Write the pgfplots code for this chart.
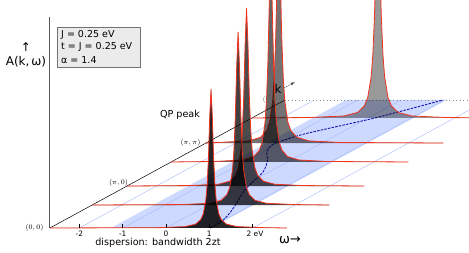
\documentclass[border=0pt]{standalone}
\usepackage{pgfplots}
\pgfplotsset{compat=1.18}
\usepackage{fontspec}
\setmainfont{DejaVu Sans}
\definecolor{band}{RGB}{205,217,255}
\definecolor{gridb}{RGB}{165,185,250}
\definecolor{rline}{RGB}{240,50,30}
\definecolor{disp}{RGB}{20,20,180}
\begin{document}
\begin{tikzpicture}
\begin{axis}[
  x={(43.3pt,0pt)}, y={(78.33pt,42.67pt)}, z={(0pt,1pt)},
  hide axis, clip=false,
  xmin=-2.68, xmax=2.8, ymin=0, ymax=3, zmin=0, zmax=220,
]
\coordinate (O) at (axis cs:-3.8337,0,228);
% band (bandwidth 2zt)
\addplot3[draw=none, fill=band] coordinates {(-1.27,0,0) (1.05,0,0) (1.05,3,0) (-1.27,3,0) (-1.27,0,0)};
% grid lines along k
\addplot3[gridb, line width=0.4pt] coordinates {(-2,0,0) (-2,3,0)};
\addplot3[gridb, line width=0.4pt] coordinates {(-1,0,0) (-1,3,0)};
\addplot3[gridb, line width=0.4pt] coordinates {(0,0,0) (0,3,0)};
\addplot3[gridb, line width=0.4pt] coordinates {(1,0,0) (1,3,0)};
\addplot3[gridb, line width=0.4pt] coordinates {(2,0,0) (2,3,0)};
% k axis and back edge
\addplot3[black, line width=0.5pt] coordinates {(-2.68,0,0) (-2.68,3,0)};
\addplot3[black!45, line width=0.5pt, dash pattern=on 1pt off 2.5pt] coordinates {(-2.68,3,0) (2.8,3,0)};
% dispersion
\addplot3[disp, line width=0.9pt, dash pattern=on 2.5pt off 1.2pt, smooth] coordinates {
(1.02,0,0) (0.98,0.19,0) (0.72,0.46,0) (0.25,0.85,0) (0.05,1.08,0) (-0.14,1.32,0)
(-0.53,1.59,0) (-0.91,1.79,0) (-1.08,1.95,0) (-1.0,2.06,0) (-0.8,2.2,0) (-0.4,2.36,0)
(0.14,2.57,0) (0.6,2.8,0) (0.97,3,0)};
% slice d5 (back, (pi,pi)->(0,0))
\addplot3[draw=rline, line width=0.8pt, fill=black, fill opacity=0.4] coordinates {
(-2.68,2.578,0) (-1.33,2.578,0.51) (-0.55,2.578,2.03) (-0.238,2.578,5.54) (-0.082,2.578,12.1)
(-0.004,2.578,20.5) (0.074,2.578,41) (0.113,2.578,63.1) (0.152,2.578,102.5) (0.191,2.578,164)
(0.23,2.578,205) (0.269,2.578,164) (0.308,2.578,102.5) (0.347,2.578,63.1) (0.386,2.578,41)
(0.464,2.578,20.5) (0.542,2.578,12.1) (0.698,2.578,5.54) (1.01,2.578,2.03) (1.79,2.578,0.51) (2.8,2.578,0)};
% slice d4 (pi,pi)
\addplot3[draw=rline, line width=0.8pt, fill=black, fill opacity=0.55] coordinates {
(-2.68,1.992,0) (-2.4,1.992,0.53) (-1.7,1.992,2.08) (-1.42,1.992,5.67) (-1.28,1.992,12.3)
(-1.21,1.992,21) (-1.14,1.992,42) (-1.105,1.992,64.6) (-1.07,1.992,105) (-1.035,1.992,168)
(-1.0,1.992,210) (-0.965,1.992,168) (-0.93,1.992,105) (-0.895,1.992,64.6) (-0.86,1.992,42)
(-0.79,1.992,21) (-0.72,1.992,12.3) (-0.58,1.992,5.67) (-0.3,1.992,2.08) (0.4,1.992,0.53) (2.8,1.992,0)};
% slice d3
\addplot3[draw=rline, line width=0.8pt, fill=black, fill opacity=0.6] coordinates {
(-2.68,1.547,0) (-1.68,1.547,0.5) (-1.03,1.547,1.98) (-0.77,1.547,5.4) (-0.64,1.547,11.8)
(-0.575,1.547,20) (-0.51,1.547,40) (-0.4775,1.547,61.5) (-0.445,1.547,100) (-0.4125,1.547,160)
(-0.38,1.547,200) (-0.3475,1.547,160) (-0.315,1.547,100) (-0.2825,1.547,61.5) (-0.25,1.547,40)
(-0.185,1.547,20) (-0.12,1.547,11.8) (0.01,1.547,5.4) (0.27,1.547,1.98) (0.92,1.547,0.5) (2.8,1.547,0)};
% slice d2 (pi,0)
\addplot3[draw=rline, line width=0.8pt, fill=black, fill opacity=0.7] coordinates {
(-2.68,0.984,0) (-1.22,0.984,0.45) (-0.57,0.984,1.76) (-0.31,0.984,4.8) (-0.18,0.984,10.5)
(-0.115,0.984,17.8) (-0.05,0.984,35.6) (-0.0175,0.984,54.8) (0.015,0.984,89) (0.0475,0.984,142.4)
(0.08,0.984,178) (0.1125,0.984,142.4) (0.145,0.984,89) (0.1775,0.984,54.8) (0.21,0.984,35.6)
(0.275,0.984,17.8) (0.34,0.984,10.5) (0.47,0.984,4.8) (0.73,0.984,1.76) (1.38,0.984,0.45) (2.8,0.984,0)};
% slice d1
\addplot3[draw=rline, line width=0.8pt, fill=black, fill opacity=0.75] coordinates {
(-2.68,0.539,0) (-0.61,0.539,0.43) (0.04,0.539,1.71) (0.30,0.539,4.67) (0.43,0.539,10.2)
(0.495,0.539,17.3) (0.56,0.539,34.6) (0.5925,0.539,53.2) (0.625,0.539,86.5) (0.6575,0.539,138.4)
(0.69,0.539,173) (0.7225,0.539,138.4) (0.755,0.539,86.5) (0.7875,0.539,53.2) (0.82,0.539,34.6)
(0.885,0.539,17.3) (0.95,0.539,10.2) (1.08,0.539,4.67) (1.34,0.539,1.71) (1.99,0.539,0.43) (2.8,0.539,0)};
% slice d0 (front, (0,0))
\addplot3[draw=rline, line width=0.8pt, fill=black, fill opacity=0.85] coordinates {
(-2.68,0,0) (-0.16,0,0.35) (0.44,0,1.38) (0.68,0,3.75) (0.80,0,8.2)
(0.86,0,13.9) (0.92,0,27.8) (0.95,0,42.8) (0.98,0,69.5) (1.01,0,111.2)
(1.04,0,139) (1.07,0,111.2) (1.10,0,69.5) (1.13,0,42.8) (1.16,0,27.8)
(1.22,0,13.9) (1.28,0,8.2) (1.40,0,3.75) (1.64,0,1.38) (2.24,0,0.35) (2.79,0,0)};
\end{axis}
\begin{scope}[shift={(O)}, x=1pt, y=-1pt]
\draw[black!65, line width=0.6pt] (49.3,17) -- (49.3,228);
\foreach \px in {79.4,122.7,166,209.3,252.6} \draw[line width=0.5pt] (\px,228) -- (\px,224.5);
\node[font=\fontsize{7.4}{8}\selectfont] at (79.4,234) {-2};
\node[font=\fontsize{7.4}{8}\selectfont] at (122.7,234) {-1};
\node[font=\fontsize{7.4}{8}\selectfont] at (166,234) {0};
\node[font=\fontsize{7.4}{8}\selectfont] at (209.3,234) {1};
\node[font=\fontsize{7.4}{8}\selectfont] at (255,234) {2 eV};
\node[font=\fontsize{9.6}{11}\selectfont] at (158,242.5) {dispersion: bandwidth 2zt};
\node[font=\fontsize{13}{14}\selectfont] at (290,240) {ω→};
\node[font=\fontsize{12}{13}\selectfont] at (26,47) {↑};
\node[font=\fontsize{12}{13}\selectfont] at (26,62) {A(k,\,ω)};
\node[font=\fontsize{9.6}{11}\selectfont] at (180,115) {QP peak};
\node[font=\fontsize{12}{13}\selectfont] at (278,89) {k};
\draw[black!70, dash pattern=on 1.5pt off 1pt, -{latex}, line width=0.5pt] (284,88) -- (295,82);
\node[font=\fontsize{7}{8}\selectfont] at (34.5,228) {$(0,0)$};
\node[font=\fontsize{7}{8}\selectfont] at (118.5,182.5) {$(\pi,0)$};
\node[font=\fontsize{7}{8}\selectfont] at (190.5,142.5) {$(\pi,\pi)$};
\node[font=\fontsize{7}{8}\selectfont, text=black!60] at (271.5,100) {$(0,0)$};
\draw[black!55, fill=black!8, line width=0.6pt] (57.7,27.7) rectangle (140.7,67.3);
\node[anchor=base west, font=\fontsize{9.5}{11}\selectfont, inner sep=0pt] at (61,37.7) {J = 0.25 eV};
\node[anchor=base west, font=\fontsize{9.5}{11}\selectfont, inner sep=0pt] at (61,50) {t = J = 0.25 eV};
\node[anchor=base west, font=\fontsize{9.5}{11}\selectfont, inner sep=0pt] at (61,63.3) {α = 1.4};
\end{scope}
\pgfresetboundingbox
\begin{scope}[shift={(O)}, x=1pt, y=-1pt]
\path (0,0) rectangle (469,252);
\end{scope}
\end{tikzpicture}
\end{document}
